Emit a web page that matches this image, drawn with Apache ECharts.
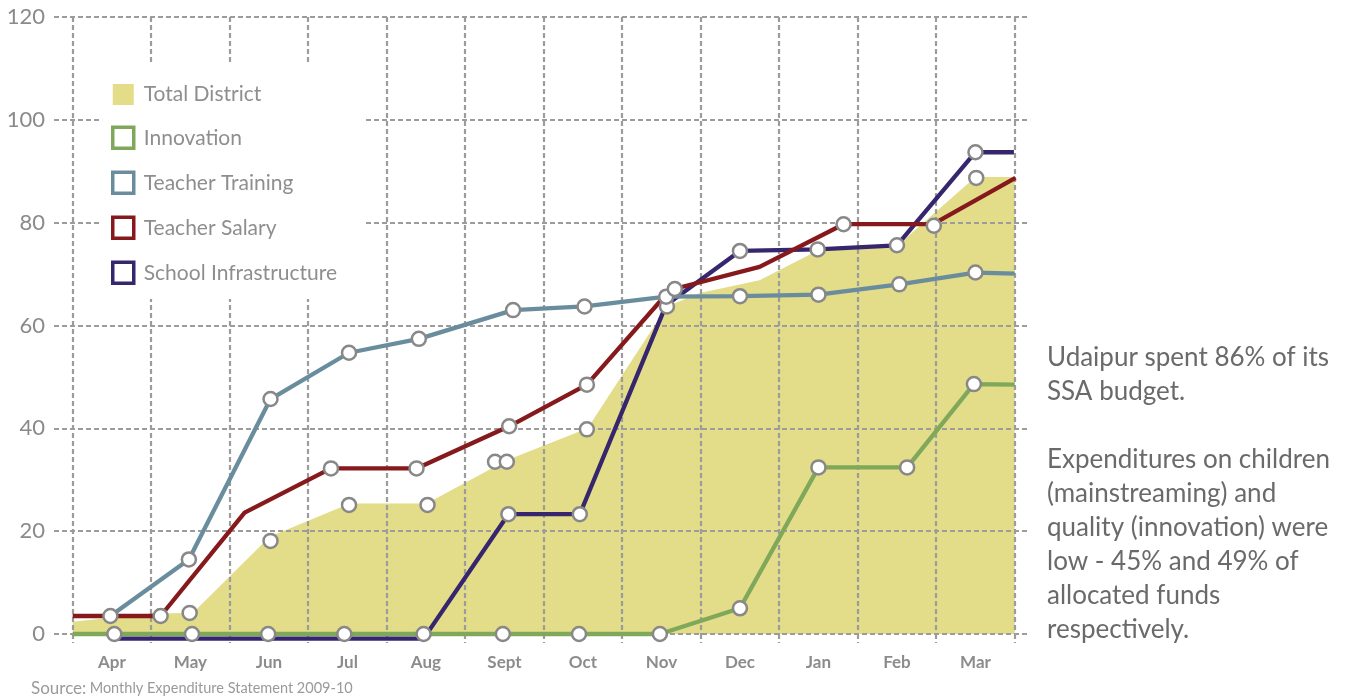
<!DOCTYPE html>
<html>
<head>
<meta charset="utf-8">
<script src="https://cdn.jsdelivr.net/npm/echarts/dist/echarts.min.js"></script>
<style>
  html, body { margin: 0; padding: 0; background: #fff; }
  #main { width: 1357px; height: 698px; }
</style>
</head>
<body>
<div id="main"></div>
<script>
// month categories (x positions below are month index, Apr = 0)
var months = ['Apr', 'May', 'Jun', 'Jul', 'Aug', 'Sept', 'Oct', 'Nov', 'Dec', 'Jan', 'Feb', 'Mar'];

// Total District (area outline + its markers)
var totalLine = [[-0.5, 2.4], [0.5, 4.0], [1.03, 4.1], [2.01, 18.9], [3.03, 25.4], [4.01, 25.4], [5.03, 33.8],
  [6.06, 40.0], [7.07, 63.7], [7.49, 66.3], [8.25, 68.8], [8.98, 74.5], [9.99, 75.3], [11.0, 88.9], [11.5, 88.9]];
var totalPts = [[0.99, 4.1], [2.02, 18.1], [3.02, 25.1], [4.02, 25.1], [4.88, 33.5], [5.03, 33.5], [6.05, 39.8],
  [7.07, 63.7], [11.01, 88.7]];

// Innovation
var innovationLine = [[-0.5, 0], [6.98, 0], [8.0, 5.0], [9.0, 32.4], [10.13, 32.4], [10.98, 48.6], [11.5, 48.5]];
var innovationPts = [[0.03, 0], [1.02, 0], [1.99, 0], [2.96, 0], [4.98, 0], [5.95, 0], [6.98, 0], [8.0, 5.0],
  [9.0, 32.4], [10.13, 32.4], [10.98, 48.6]];

// Teacher Training
var trainingLine = [[-0.02, 3.5], [0.98, 14.5], [2.02, 45.7], [3.02, 54.7], [3.91, 57.4], [5.11, 63.0], [6.02, 63.7],
  [7.06, 65.6], [8.0, 65.7], [9.0, 66.0], [10.03, 68.0], [11.0, 70.3], [11.5, 70.1]];
var trainingPts = [[-0.02, 3.5], [0.98, 14.5], [2.02, 45.7], [3.02, 54.7], [3.91, 57.4], [5.11, 63.0], [6.02, 63.7],
  [7.06, 65.6], [8.0, 65.7], [9.0, 66.0], [10.03, 68.0], [11.0, 70.3]];

// Teacher Salary
var salaryLine = [[-0.5, 3.5], [0.62, 3.5], [1.69, 23.6], [2.79, 32.2], [3.88, 32.2], [5.06, 40.4], [6.05, 48.5],
  [7.11, 66.9], [8.25, 71.4], [9.32, 79.7], [10.46, 79.7], [11.51, 88.7]];
var salaryPts = [[0.62, 3.5], [2.79, 32.2], [3.88, 32.2], [5.06, 40.4], [6.05, 48.5], [7.17, 67.1], [9.32, 79.7],
  [10.47, 79.4]];

// School Infrastructure
var infraLine = [[0.0, -0.9], [3.97, -0.9], [5.05, 23.3], [5.96, 23.3], [7.06, 64.0], [8.0, 74.5], [8.99, 74.8],
  [10.0, 75.6], [11.0, 93.7], [11.49, 93.7]];
var infraPts = [[3.97, 0], [5.05, 23.3], [5.96, 23.3], [8.0, 74.5], [8.99, 74.8], [10.0, 75.6], [11.0, 93.7]];

var noteText = 'Udaipur spent 86% of its\nSSA budget.\n\nExpenditures on children\n(mainstreaming) and\n' +
  'quality (innovation) were\nlow - 45% and 49% of\nallocated funds\nrespectively.';

var FONT = 'Lato, "Open Sans", sans-serif';
var colors = {
  total: '#e3dc88',
  innovation: '#80a85a',
  training: '#6a8d9d',
  salary: '#85191c',
  infra: '#36266e'
};

// dashed grey grid line
function gridLine() {
  return { color: '#9c9c9c', width: 2.2, type: [5, 3] };
}

var chart = echarts.init(document.getElementById('main'));

function lineSeries(name, data, color) {
  return {
    name: name,
    type: 'line',
    xAxisIndex: 2,
    yAxisIndex: 1,
    data: data,
    symbol: 'none',
    clip: false,
    z: 3,
    lineStyle: { color: color, width: 4.3 },
    itemStyle: { color: color }
  };
}

function markerSeries(name, data) {
  return {
    name: name,
    type: 'scatter',
    xAxisIndex: 2,
    yAxisIndex: 1,
    data: data,
    symbol: 'circle',
    symbolSize: 14,
    z: 4,
    itemStyle: { color: '#fff', borderColor: '#888', borderWidth: 2.5, opacity: 1 }
  };
}

function outlineIcon(name, color) {
  return { name: name, icon: 'rect', itemStyle: { color: '#fff', borderColor: color, borderWidth: 3.5 } };
}

var option = {
  animation: false,
  backgroundColor: '#fff',
  grid: [
    { left: 54, right: 327, top: 17, bottom: 64 },
    { left: 72.7, right: 342.3, top: 17, bottom: 64 }
  ],
  xAxis: [
    { gridIndex: 0, type: 'value', min: 0, max: 1, show: false },
    {
      gridIndex: 1,
      type: 'category',
      data: months,
      boundaryGap: true,
      z: 1,
      axisLine: { show: false },
      axisTick: { show: true, length: 9, lineStyle: gridLine() },
      axisLabel: { margin: 20, color: '#8c8c8c', fontFamily: FONT, fontWeight: 'bold', fontSize: 17 },
      splitLine: { show: true, lineStyle: gridLine() }
    },
    { gridIndex: 1, type: 'value', min: -0.5, max: 11.5, show: false }
  ],
  yAxis: [
    {
      gridIndex: 0,
      type: 'value',
      min: 0,
      max: 120,
      interval: 20,
      z: 1,
      axisLine: { show: false },
      axisTick: { show: false },
      axisLabel: { margin: 9, color: '#8a8a8a', fontFamily: FONT, fontSize: 22 },
      splitLine: { show: true, lineStyle: gridLine() }
    },
    { gridIndex: 1, type: 'value', min: 0, max: 120, show: false }
  ],
  legend: {
    orient: 'vertical',
    left: 100,
    top: 63,
    padding: [21, 27, 14, 11],
    backgroundColor: '#fff',
    z: 10,
    itemWidth: 21,
    itemHeight: 21,
    itemGap: 20.5,
    selectedMode: false,
    textStyle: { color: '#8e8e8e', fontFamily: FONT, fontSize: 21, padding: [0, 0, 0, 5] },
    data: [
      { name: 'Total District', icon: 'rect', itemStyle: { color: colors.total, borderWidth: 0 } },
      outlineIcon('Innovation', colors.innovation),
      outlineIcon('Teacher Training', colors.training),
      outlineIcon('Teacher Salary', colors.salary),
      outlineIcon('School Infrastructure', colors.infra)
    ]
  },
  graphic: [
    {
      type: 'text',
      left: 1047,
      top: 341,
      style: { text: noteText, fill: '#6a6a6a', font: '26px ' + FONT, lineHeight: 33.9 }
    },
    {
      type: 'text',
      left: 31,
      top: 680,
      style: {
        text: '{a|Source:} {b|Monthly Expenditure Statement 2009-10}',
        rich: {
          a: { fill: '#9a9a9a', fontFamily: FONT, fontSize: 17 },
          b: { fill: '#9a9a9a', fontFamily: FONT, fontSize: 14.5 }
        }
      }
    }
  ],
  series: [
    {
      name: 'Total District',
      type: 'line',
      xAxisIndex: 2,
      yAxisIndex: 1,
      data: totalLine,
      symbol: 'none',
      z: 0,
      lineStyle: { width: 0 },
      itemStyle: { color: colors.total },
      areaStyle: { color: colors.total, opacity: 1 }
    },
    lineSeries('Innovation', innovationLine, colors.innovation),
    lineSeries('School Infrastructure', infraLine, colors.infra),
    lineSeries('Teacher Training', trainingLine, colors.training),
    lineSeries('Teacher Salary', salaryLine, colors.salary),
    markerSeries('m-total', totalPts),
    markerSeries('m-innovation', innovationPts),
    markerSeries('m-training', trainingPts),
    markerSeries('m-salary', salaryPts),
    markerSeries('m-infra', infraPts)
  ]
};

chart.setOption(option);
</script>
</body>
</html>
